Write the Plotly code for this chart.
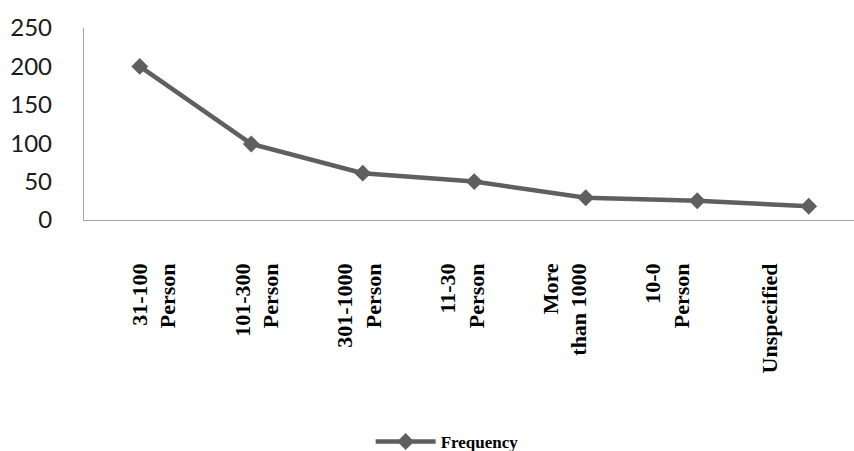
import plotly.graph_objects as go

# Company size categories and how often each occurred
categories = ["31-100 Person", "101-300 Person", "301-1000 Person", "11-30 Person",
              "More than 1000", "10-0 Person", "Unspecified"]
tick_labels = ["31-100<br>Person", "101-300<br>Person", "301-1000<br>Person",
               "11-30<br>Person", "More<br>than 1000", "10-0<br>Person", "Unspecified"]
frequency = [200, 99, 61, 50, 29, 25, 18]
y_ticks = [0, 50, 100, 150, 200, 250]

LINE = "#5f5f5f"
AXIS = "#a6a6a6"

fig = go.Figure()
fig.add_trace(go.Scatter(
    x=categories, y=frequency, name="Frequency", mode="lines+markers",
    line=dict(color=LINE, width=4.5),
    marker=dict(symbol="diamond", size=13, color=LINE),
))
# hidden helper trace that carries the category labels on their own axis
fig.add_trace(go.Scatter(
    x=list(range(len(tick_labels))), y=[None] * len(tick_labels),
    xaxis="x2", showlegend=False, hoverinfo="skip",
))

fig.update_layout(
    width=854, height=451,
    margin=dict(l=84, r=0, t=28, b=231),
    plot_bgcolor="white", paper_bgcolor="white",
    showlegend=True,
    legend=dict(
        orientation="h", xref="container", yref="container",
        x=0.434, y=0.02, xanchor="left", yanchor="middle",
        font=dict(family="Liberation Serif", size=17, color="#000000", weight="bold"),
        itemwidth=60,
    ),
    xaxis=dict(
        type="category", range=[-0.5, 6.406],
        showticklabels=False, ticks="",
        showline=True, linecolor=AXIS, linewidth=1.3,
        showgrid=False, zeroline=False,
    ),
    xaxis2=dict(
        overlaying="x", anchor="y", side="bottom",
        range=[-0.6816, 6.816], tickmode="array",
        tickvals=list(range(len(tick_labels))), ticktext=tick_labels,
        tickangle=-90, ticks="", ticklabelstandoff=38,
        tickfont=dict(family="Liberation Serif", size=22, color="#000000", weight="bold"),
        showline=False, showgrid=False, zeroline=False,
    ),
    yaxis=dict(
        range=[0, 250], tickmode="array", tickvals=y_ticks,
        showline=True, linecolor=AXIS, linewidth=1.3,
        showgrid=False, zeroline=False, ticks="",
        ticklabelstandoff=26,
        tickfont=dict(family="Lato", size=24, color="#1a1a1a"),
    ),
)

fig.write_html("out.html")
